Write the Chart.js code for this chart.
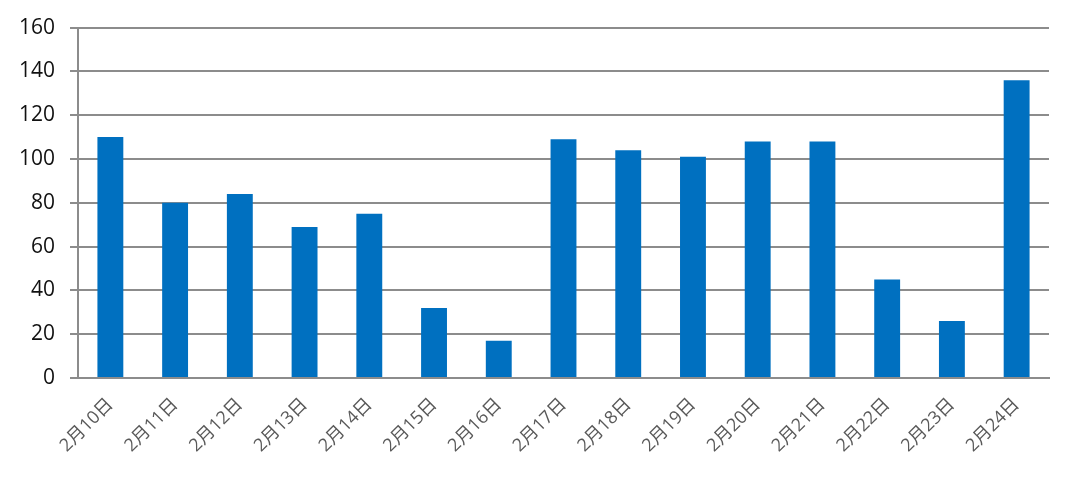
<!DOCTYPE html>
<html><head><meta charset="utf-8">
<script src="https://cdn.jsdelivr.net/npm/chart.js@4"></script>
<style>html,body{margin:0;padding:0;background:#fff;}#wrap{width:1080px;height:483px;}</style>
</head><body><div id="wrap"><canvas id="c" width="1080" height="483"></canvas></div>
<script>
const categories = ["2月10日","2月11日","2月12日","2月13日","2月14日","2月15日","2月16日","2月17日","2月18日","2月19日","2月20日","2月21日","2月22日","2月23日","2月24日"];
const values = [110, 80, 84, 69, 75, 32, 17, 109, 104, 101, 108, 108, 45, 26, 136];
const yTicks = [0, 20, 40, 60, 80, 100, 120, 140, 160];

new Chart(document.getElementById('c'), {
  type: 'bar',
  data: { labels: categories, datasets: [{ data: values, backgroundColor: '#0070C0', barPercentage: 0.4, categoryPercentage: 1.0 }] },
  options: {
    responsive: false, animation: false,
    layout: { padding: { top: 27, right: 31, left: 0, bottom: 0 } },
    plugins: { legend: { display: false }, tooltip: { enabled: false } },
    scales: {
      x: {
        grid: { display: false },
        border: { display: true, color: '#8c8c8c', width: 2 },
        ticks: { color: '#595959', font: { family: "'Open Sans','Noto Sans CJK SC'", size: 18 }, maxRotation: 45, minRotation: 45, padding: 8 },
        afterFit: s => { s.height = 105; }
      },
      y: {
        min: 0, max: 160,
        afterBuildTicks: s => { s.ticks = yTicks.map(v => ({ value: v })); },
        grid: { color: '#8c8c8c', lineWidth: 2, tickLength: 8, drawTicks: true },
        border: { display: true, color: '#8c8c8c', width: 2 },
        ticks: { color: '#111', font: { family: "'Open Sans'", size: 21 }, padding: 15 },
        afterFit: s => { s.width = 78; }
      }
    }
  }
});
</script></body></html>
